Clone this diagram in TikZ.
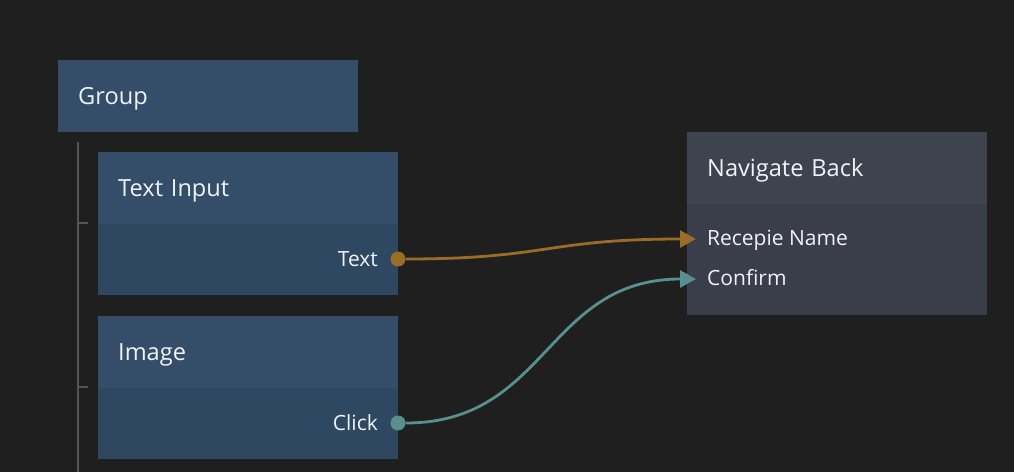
\documentclass[tikz,border=0pt]{standalone}
\usepackage{fontspec}
\setmainfont{Open Sans}
\definecolor{canvas}{RGB}{31,31,31}
\definecolor{uihead}{RGB}{52,77,105}
\definecolor{uibody}{RGB}{47,72,98}
\definecolor{logichead}{RGB}{62,67,80}
\definecolor{logicbody}{RGB}{58,61,74}
\definecolor{treeline}{RGB}{85,85,85}
\definecolor{strwire}{RGB}{154,108,40}
\definecolor{sigwire}{RGB}{88,143,143}
\definecolor{labeltext}{RGB}{240,242,245}
\usetikzlibrary{arrows.meta}
\tikzstyle{head}=[rectangle,anchor=north west,text width=260pt,inner xsep=20pt,inner ysep=0pt,minimum height=72pt,align=left,text height=19pt,text depth=3pt,text=labeltext,font=\fontsize{23.6}{28}\selectfont]
\tikzstyle{body}=[rectangle,anchor=north west,minimum width=300pt,inner sep=0pt]
\tikzstyle{portlabel}=[text=labeltext,inner sep=0pt,font=\fontsize{21}{25}\selectfont]
\tikzstyle{port}=[circle,minimum size=15pt,inner sep=0pt]
\tikzstyle{wire} = [draw,line width=2.8pt,-{Triangle[length=16pt,width=17pt]}]

\begin{document}
\begin{tikzpicture}[x=1pt,y=-1pt]
                    \useasboundingbox[fill=canvas] (0,0) rectangle (1014,472);

                    % tree line of the group
                    \draw[treeline,line width=2pt] (78,142) -- (78,472);
                    \draw[treeline,line width=2pt] (78,223) -- (88,223);
                    \draw[treeline,line width=2pt] (78,387) -- (88,387);

                    \node[head,fill=uihead] (group) at (58,60) {Group};

                    \node[body,fill=uibody,minimum height=72pt] (inputbody) at (98,223) {};
                    \node[head,fill=uihead] (input) at (98,152) {Text Input};
                    \node[body,fill=uibody,minimum height=72pt] (imagebody) at (98,387) {};
                    \node[head,fill=uihead] (image) at (98,316) {Image};

                    \node[body,fill=logicbody,minimum height=112pt] (navbody) at (687,203) {};
                    \node[head,fill=logichead] (nav) at (687,132) {Navigate Back};

                    \node[portlabel,anchor=base east] (textlabel) at (378,266.5) {Text};
                    \node[portlabel,anchor=base east] (clicklabel) at (378,430) {Click};
                    \node[portlabel,anchor=base west] (namelabel) at (707,245) {Recepie Name};
                    \node[portlabel,anchor=base west] (confirmlabel) at (707,285) {Confirm};

                    \node[port,fill=strwire] (textport) at (398,259) {};
                    \node[port,fill=sigwire] (clickport) at (398,423) {};
                    \coordinate (namein) at (696,239);
                    \coordinate (confirmin) at (696,279);

                    \path[wire,strwire] (textport) .. controls +(150,0) and +(-150,0) .. (namein);
                    \path[wire,sigwire] (clickport) .. controls +(150,0) and +(-150,0) .. (confirmin);
                \end{tikzpicture}
\end{document}
